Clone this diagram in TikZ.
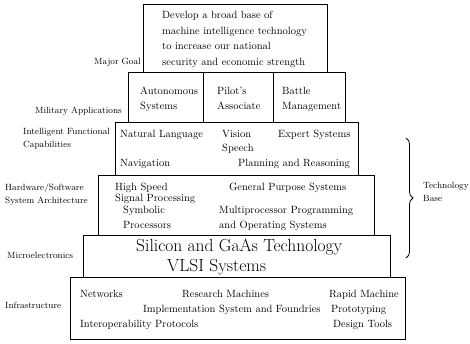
\documentclass[tikz,border=0pt]{standalone}
\usepackage{tikz}
\usetikzlibrary{positioning,decorations.pathreplacing}

\begin{document}
\begin{tikzpicture}[
    x=1pt,y=-1pt,
    tier/.style={draw,line width=0.9pt,inner sep=0pt},
    item/.style={anchor=base west,inner sep=0pt,font=\fontsize{10.5}{12}\selectfont},
    side/.style={inner sep=0pt,font=\fontsize{9}{12.5}\selectfont},
    big/.style={anchor=base west,inner sep=0pt,font=\fontsize{17.5}{19}\selectfont}
  ]
    \useasboundingbox (0,0) rectangle (470,343);
    % tiers of the pyramid
    \node[tier,minimum width=184,minimum height=68] (goal) at (235,38) {};
    \node[tier,minimum width=75,minimum height=50] (auto) at (165.5,97) {};
    \node[tier,minimum width=70,minimum height=50] (pilot) at (238,97) {};
    \node[tier,minimum width=72,minimum height=50] (battle) at (309,97) {};
    \node[tier,minimum width=243,minimum height=53] (intel) at (236.5,148.5) {};
    \node[tier,minimum width=276,minimum height=60] (hwsw) at (236,205) {};
    \node[tier,minimum width=307,minimum height=42] (micro) at (236.5,256) {};
    \node[tier,minimum width=335,minimum height=62] (infra) at (237.5,308) {};
    % major goal
    \node[item] (g1) at (162,18) {Develop a broad base of};
    \node[item] (g2) at (162,34) {machine intelligence technology};
    \node[item] (g3) at (162,49.5) {to increase our national};
    \node[item] (g4) at (162,65) {security and economic strength};
    % military applications
    \node[item] (a1) at (140,94) {Autonomous};
    \node[item] (a2) at (140,109) {Systems};
    \node[item] (p1) at (217,94) {Pilot's};
    \node[item] (p2) at (217,109) {Associate};
    \node[item] (b1) at (282,94) {Battle};
    \node[item] (b2) at (282,109) {Management};
    % intelligent functional capabilities
    \node[item] (nl) at (120,137) {Natural Language};
    \node[item] (vis) at (222,137) {Vision};
    \node[item] (sp) at (222,151) {Speech};
    \node[item] (es) at (278,137) {Expert Systems};
    \node[item] (nav) at (120,166) {Navigation};
    \node[item] (pr) at (238,166) {Planning and Reasoning};
    % hardware/software
    \node[item] (h1) at (115,190) {High Speed};
    \node[item] (h2) at (115,201) {Signal Processing};
    \node[item] (h3) at (123,213) {Symbolic};
    \node[item] (h4) at (123,228) {Processors};
    \node[item] (gp) at (229,190) {General Purpose Systems};
    \node[item] (mp1) at (219,213) {Multiprocessor Programming};
    \node[item] (mp2) at (219,228) {and Operating Systems};
    % microelectronics
    \node[big] (si) at (136,251.5) {Silicon and GaAs Technology};
    \node[big] (vlsi) at (167,271) {VLSI Systems};
    % infrastructure
    \node[item] (nw) at (80,297) {Networks};
    \node[item] (rm) at (182,297) {Research Machines};
    \node[item] (rp1) at (329,297) {Rapid Machine};
    \node[item] (im) at (143,312) {Implementation System and Foundries};
    \node[item] (rp2) at (331,312) {Prototyping};
    \node[item] (io) at (80,327) {Interoperability Protocols};
    \node[item] (dt) at (333,327) {Design Tools};
    % level names
    \node[side,anchor=base east] (lgoal) at (141,64) {Major Goal};
    \node[side,anchor=base east] (lmil) at (122,113) {Military Applications};
    \node[side,anchor=base west,align=left] (lint) at (23,147) {Intelligent Functional\\Capabilities};
    \node[side,anchor=base west,align=left] (lhw) at (5,203) {Hardware/Software\\System Architecture};
    \node[side,anchor=base west] (lmic) at (7,258) {Microelectronics};
    \node[side,anchor=base west] (linf) at (5,308) {Infrastructure};
    % technology base brace
    \coordinate (btop) at (406,138);
    \coordinate (bbot) at (406,258);
    \draw[line width=0.8pt,decorate,decoration={brace,amplitude=7pt}] (btop) -- (bbot);
    \node[side,anchor=base west,align=left] (tb) at (423,201) {Technology\\Base};
  \end{tikzpicture}
\end{document}
